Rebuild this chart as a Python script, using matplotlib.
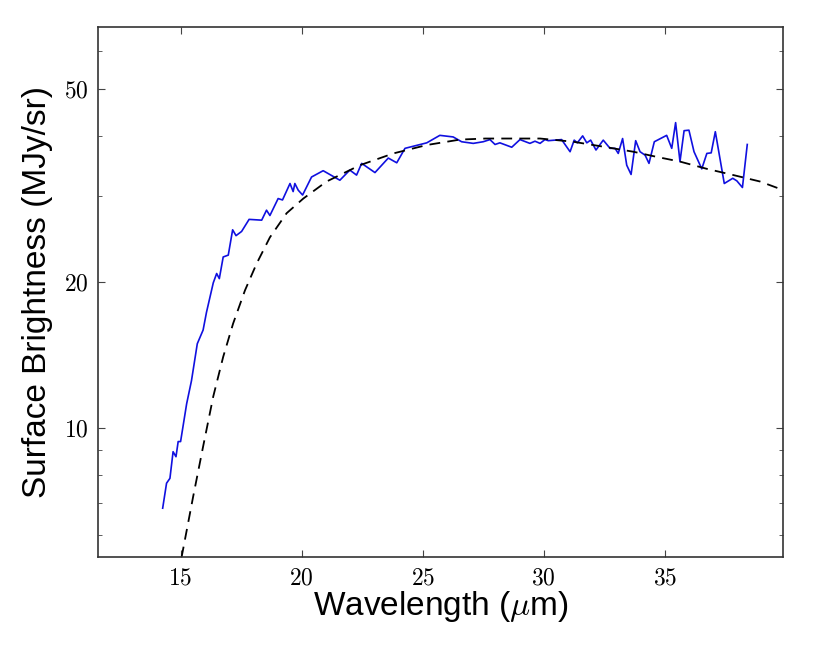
import matplotlib
matplotlib.use('Agg')
import matplotlib.pyplot as plt
from matplotlib import ticker

plt.rcParams['mathtext.fontset'] = 'cm'
plt.rcParams['font.family'] = ['Liberation Sans', 'DejaVu Sans']

# Observed spectrum (wavelength in micron, surface brightness in MJy/sr)
wave_obs = [14.26, 14.42, 14.56, 14.69, 14.81, 14.90, 15.00, 15.25, 15.45,
            15.69, 15.93, 16.07, 16.35, 16.49, 16.60, 16.76, 16.97, 17.15,
            17.29, 17.52, 17.83, 18.35, 18.55, 18.69, 19.03, 19.21, 19.52,
            19.65, 19.72, 19.86, 20.04, 20.41, 20.89, 21.58, 21.99, 22.27,
            22.48, 23.03, 23.58, 23.93, 24.27, 25.17, 25.71, 26.26, 26.61,
            27.09, 27.50, 27.78, 27.99, 28.19, 28.68, 29.02, 29.43, 29.64,
            29.85, 30.05, 30.19, 30.74, 31.09, 31.26, 31.39, 31.61, 31.78,
            31.94, 32.16, 32.46, 32.74, 32.95, 33.08, 33.26, 33.43, 33.61,
            33.80, 33.98, 34.19, 34.35, 34.57, 35.08, 35.29, 35.45, 35.63,
            35.80, 36.00, 36.21, 36.53, 36.74, 36.92, 37.09, 37.46, 37.81,
            37.98, 38.21, 38.41]
flux_obs = [6.82, 7.68, 7.86, 8.92, 8.71, 9.36, 9.36, 11.2, 12.5,
            14.9, 15.9, 17.3, 19.9, 20.8, 20.3, 22.5, 22.7, 25.6,
            24.9, 25.4, 26.9, 26.8, 28.1, 27.4, 29.7, 29.5, 31.9,
            30.7, 31.9, 30.9, 30.2, 32.9, 33.9, 32.4, 34.0, 33.2,
            35.1, 33.6, 36.0, 35.2, 37.7, 38.7, 40.1, 39.8, 38.9,
            38.6, 38.9, 39.3, 38.4, 38.7, 37.9, 39.3, 38.6, 39.0,
            38.6, 39.3, 39.1, 39.3, 37.1, 39.2, 38.7, 40.0, 38.7,
            39.2, 37.4, 39.2, 37.7, 37.7, 36.8, 39.5, 34.8, 33.3,
            39.1, 37.1, 36.5, 35.1, 38.9, 40.1, 37.7, 42.6, 35.4,
            41.0, 41.1, 37.1, 34.2, 36.8, 36.9, 40.8, 31.9, 32.7,
            32.3, 31.3, 38.4]

# Model fit (dashed)
wave_mod = [15.04, 15.52, 15.93, 16.35, 16.76, 17.17, 17.66, 18.14, 18.69,
            19.38, 20.07, 21.03, 22.41, 23.79, 25.17, 26.54, 27.6, 28.6,
            29.85, 31.22, 32.60, 33.70, 34.67, 35.63, 36.74, 37.84, 38.94,
            39.83, 40.2]
flux_mod = [5.4, 7.21, 9.14, 11.6, 14.0, 16.4, 19.2, 21.8, 24.7,
            27.7, 29.7, 32.2, 34.8, 36.8, 38.3, 39.3, 39.5, 39.5,
            39.5, 38.9, 37.9, 37.1, 36.2, 35.4, 34.2, 33.2, 32.2,
            31.0, 30.7]

fig = plt.figure(figsize=(8.17, 6.52), dpi=100)
ax = fig.add_axes([0.1203, 0.1452, 0.8385, 0.8129])

ax.plot(wave_obs, flux_obs, color='#1010e0', lw=1.2)
ax.plot(wave_mod, flux_mod, color='k', lw=1.3, ls=(0, (6, 4)))

ax.set_yscale('log')
ax.set_xlim(11.6, 39.9)
ax.set_ylim(5.4, 67)

ax.xaxis.set_major_locator(ticker.FixedLocator([15, 20, 25, 30, 35]))
ax.xaxis.set_minor_locator(ticker.NullLocator())
ax.yaxis.set_major_locator(ticker.FixedLocator([10, 20, 50]))
ax.yaxis.set_minor_locator(ticker.LogLocator(subs=range(2, 10)))
ax.yaxis.set_minor_formatter(ticker.NullFormatter())
math_fmt = ticker.FuncFormatter(lambda v, pos: r'$%d$' % v)
ax.xaxis.set_major_formatter(math_fmt)
ax.yaxis.set_major_formatter(math_fmt)

ax.tick_params(which='both', direction='in', top=True, right=True,
               labelsize=17, color='#444444')
ax.tick_params(which='major', length=5, width=0.8, pad=7)
ax.tick_params(which='minor', length=3, width=0.6)
for s in ax.spines.values():
    s.set_linewidth(1.2)
    s.set_color('#333333')

ax.set_xlabel(r'Wavelength ($\mu$m)', fontsize=24, labelpad=0)
ax.set_ylabel('Surface Brightness (MJy/sr)', fontsize=24, labelpad=8)

fig.savefig('out.png', dpi=100)
